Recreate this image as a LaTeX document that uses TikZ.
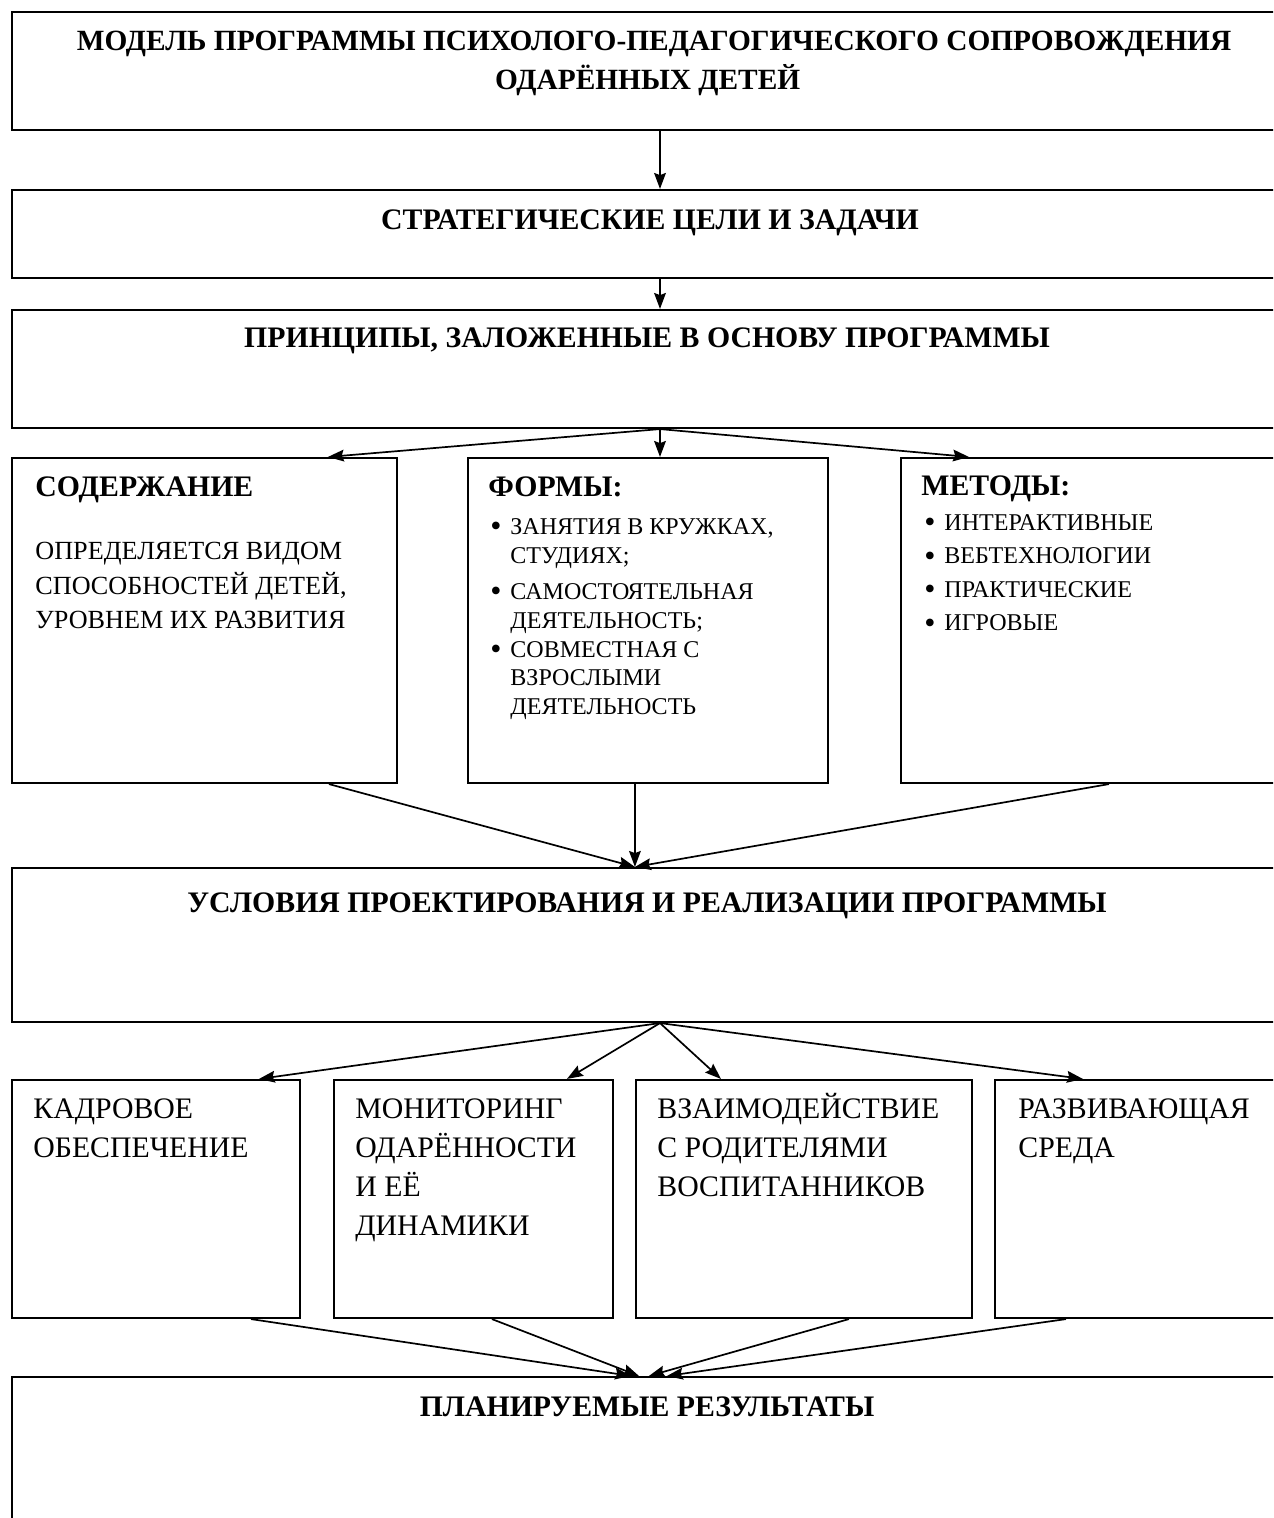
\documentclass[tikz,border=0pt]{standalone}
\usepackage{fontspec}
\setmainfont{Liberation Serif}
\usetikzlibrary{positioning,calc,arrows.meta,fit}

\newcommand{\itm}{\makebox[9.4pt][l]{\raisebox{-1.1pt}{\fontsize{15}{15}\selectfont\textbullet}}}
\newcommand{\ind}{\hspace*{9.4pt}}
\newcommand{\topln}{\rule{0pt}{12pt}}

\begin{document}
\begin{tikzpicture}[
    x=0.47pt, y=-0.47pt,
    box/.style={draw, rectangle, line width=1pt, inner sep=0pt},
    arrow/.style={-{Stealth[length=7.5pt,width=5.5pt,inset=1pt]}, line width=0.8pt},
    head/.style={font=\fontsize{14}{17.9}\selectfont\bfseries, align=center, anchor=base, inner sep=0pt},
    title/.style={font=\fontsize{14}{17}\selectfont\bfseries, anchor=base west, inner sep=0pt},
    body/.style={font=\fontsize{12.3}{16}\selectfont, align=left, anchor=north west, inner sep=0pt},
    item/.style={font=\fontsize{11.3}{13.6}\selectfont, align=left, anchor=north west, inner sep=0pt},
    big/.style={font=\fontsize{14}{18.3}\selectfont, align=left, anchor=north west, inner sep=0pt}
]
\clip (0,0) rectangle (1273,1518);
\fill[white] (0,0) rectangle (1273,1518);

% Model, goals and principles
\node[box, fit={(12,12) (1308,130)}] (model) {};
\node[head, anchor=north, font=\fontsize{13.8}{17.9}\selectfont\bfseries] (modeltext) at (654,25) {\topln МОДЕЛЬ ПРОГРАММЫ ПСИХОЛОГО-ПЕДАГОГИЧЕСКОГО СОПРОВОЖДЕНИЯ\\ОДАРЁННЫХ ДЕТЕЙ\hspace*{6pt}};
\node[box, fit={(12,190) (1308,278)}] (goals) {};
\node[head] (goalstext) at (650,229) {СТРАТЕГИЧЕСКИЕ ЦЕЛИ И ЗАДАЧИ};
\node[box, fit={(12,310) (1308,428)}] (princ) {};
\node[head] (princtext) at (647,347) {ПРИНЦИПЫ, ЗАЛОЖЕННЫЕ В ОСНОВУ ПРОГРАММЫ};

\draw[arrow] (model) -- (goals);
\draw[arrow] (goals) -- (princ);

% Content, forms, methods
\node[box, fit={(12,458) (397,783)}] (content) {};
\node[title] (contenthead) at (35,496) {СОДЕРЖАНИЕ};
\node[body] (contenttext) at (35,534) {\topln ОПРЕДЕЛЯЕТСЯ ВИДОМ\\СПОСОБНОСТЕЙ ДЕТЕЙ,\\УРОВНЕМ ИХ РАЗВИТИЯ};

\node[box, fit={(468,458) (828,783)}] (forms) {};
\node[title] (formshead) at (488,496) {ФОРМЫ:};
\node[item] (formstext) at (490,508.5) {\topln\itm ЗАНЯТИЯ В КРУЖКАХ,\\\ind СТУДИЯХ;\\[3.2pt]\itm САМОСТОЯТЕЛЬНАЯ\\\ind ДЕЯТЕЛЬНОСТЬ;\\\itm СОВМЕСТНАЯ С\\\ind ВЗРОСЛЫМИ\\\ind ДЕЯТЕЛЬНОСТЬ};

\node[box, fit={(901,458) (1300,783)}] (methods) {};
\node[title] (methodshead) at (921,495) {МЕТОДЫ:};
\node[item, font=\fontsize{11.3}{15.7}\selectfont] (methodstext) at (924,504.5) {\topln\itm ИНТЕРАКТИВНЫЕ\\\itm ВЕБТЕХНОЛОГИИ\\\itm ПРАКТИЧЕСКИЕ\\\itm ИГРОВЫЕ};

\draw[arrow] (princ.south) -- ($(content.north west)+(317,0)$);
\draw[arrow] (princ.south) -- (princ.south |- forms.north);
\draw[arrow] (princ.south) -- ($(methods.north west)+(69,0)$);

% Conditions
\node[box, fit={(12,868) (1308,1022)}] (cond) {};
\node[head] (condtext) at (647,912) {УСЛОВИЯ ПРОЕКТИРОВАНИЯ И РЕАЛИЗАЦИИ ПРОГРАММЫ};
\coordinate (condin) at ($(cond.north west)+(624,0)$);

\draw[arrow] ($(content.south west)+(318,0)$) -- (condin);
\draw[arrow] (forms.south -| condin) -- (condin);
\draw[arrow] ($(methods.south west)+(209,0)$) -- (condin);

% Four kinds of support
\node[box, fit={(12,1080) (300,1318)}] (staff) {};
\node[big] (stafftext) at (33,1092.5) {\topln КАДРОВОЕ\\ОБЕСПЕЧЕНИЕ};
\node[box, fit={(334,1080) (613,1318)}] (monit) {};
\node[big] (monittext) at (355,1092.5) {\topln МОНИТОРИНГ\\ОДАРЁННОСТИ\\И ЕЁ\\ДИНАМИКИ};
\node[box, fit={(636,1080) (972,1318)}] (parents) {};
\node[big] (parentstext) at (657,1092.5) {\topln ВЗАИМОДЕЙСТВИЕ\\С РОДИТЕЛЯМИ\\ВОСПИТАННИКОВ};
\node[box, fit={(995,1080) (1300,1318)}] (env) {};
\node[big] (envtext) at (1018,1092.5) {\topln РАЗВИВАЮЩАЯ\\СРЕДА};

\draw[arrow] (cond.south) -- ($(staff.north west)+(248,0)$);
\draw[arrow] (cond.south) -- ($(monit.north west)+(234,0)$);
\draw[arrow] (cond.south) -- ($(parents.north west)+(86,0)$);
\draw[arrow] (cond.south) -- ($(env.north west)+(89,0)$);

% Results
\node[box, fit={(12,1377) (1308,1560)}] (results) {};
\node[head] (resultstext) at (647,1416) {ПЛАНИРУЕМЫЕ РЕЗУЛЬТАТЫ};

\draw[arrow] ($(staff.south west)+(240,0)$) -- ($(results.north west)+(620,0)$);
\draw[arrow] ($(monit.south west)+(159,0)$) -- ($(results.north west)+(628,0)$);
\draw[arrow] ($(parents.south west)+(214,0)$) -- ($(results.north west)+(638,0)$);
\draw[arrow] ($(env.south west)+(72,0)$) -- ($(results.north west)+(656,0)$);

\end{tikzpicture}
\end{document}
